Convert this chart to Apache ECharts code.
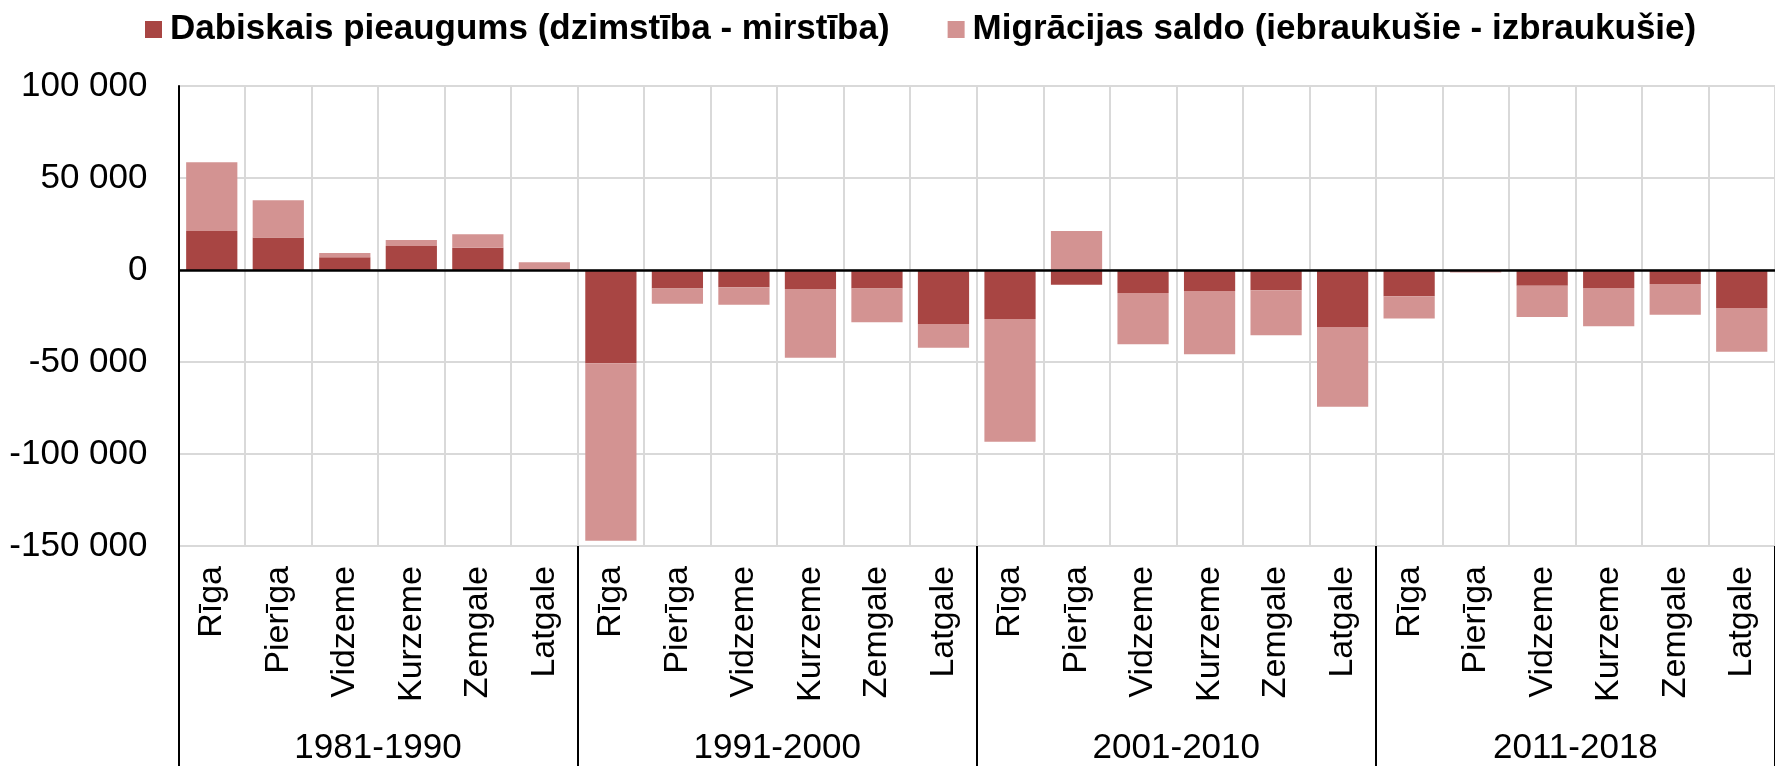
<!DOCTYPE html>
<html>
<head>
<meta charset="utf-8">
<script src="https://cdn.jsdelivr.net/npm/echarts@6/dist/echarts.min.js"></script>
<style>
  html, body { margin: 0; padding: 0; background: #fff; }
  #chart { width: 1775px; height: 766px; }
</style>
</head>
<body>
<div id="chart"></div>
<script>
  // periodi un reģioni
  var periods = ['1981-1990', '1991-2000', '2001-2010', '2011-2018'];
  var regions = ['Rīga', 'Pierīga', 'Vidzeme', 'Kurzeme', 'Zemgale', 'Latgale'];

  // dabiskais pieaugums pa periodiem (Rīga..Latgale)
  var natural1981 = [21200, 17600, 6900, 13000, 12100, 200];
  var natural1991 = [-50700, -10000, -9400, -10300, -10000, -29300];
  var natural2001 = [-26600, -8000, -12500, -11400, -11000, -31000];
  var natural2011 = [-14300, 0, -8500, -9800, -7600, -20700];

  // migrācijas saldo
  var migration1981 = [37300, 20300, 2300, 3300, 7300, 4000];
  var migration1991 = [-96400, -8300, -9500, -37400, -18400, -12900];
  var migration2001 = [-66700, 21200, -27900, -34400, -24500, -43300];
  var migration2011 = [-12100, -1300, -17000, -20800, -16700, -23700];

  var yTicks = { min: -150000, max: 100000, interval: 50000 };

  var legendNames = ['Dabiskais pieaugums (dzimstība - mirstība)', 'Migrācijas saldo (iebraukušie - izbraukušie)'];

  var categories = [];
  periods.forEach(function () {
    regions.forEach(function (r) { categories.push(r); });
  });
  var naturalData = natural1981.concat(natural1991, natural2001, natural2011);
  var migrationData = migration1981.concat(migration1991, migration2001, migration2011);

  var font = "'Liberation Sans', Arial, sans-serif";

  var chart = echarts.init(document.getElementById('chart'));
  chart.setOption({
    animation: false,
    textStyle: { fontFamily: font },
    legend: {
      data: legendNames,
      left: 140,
      top: 7,
      icon: 'rect',
      itemWidth: 17,
      itemHeight: 17,
      itemGap: 58,
      textStyle: { fontSize: 35, fontWeight: 'bold', color: '#000', fontFamily: font, padding: [0, 0, 0, 3] }
    },
    grid: { left: 178.5, top: 86, width: 1608, height: 460, containLabel: false },
    xAxis: [
      {
        type: 'category',
        data: categories,
        axisLine: { show: false, onZero: false },
        axisTick: { show: false },
        splitLine: { show: true, interval: 0, lineStyle: { color: '#d9d9d9', width: 2 } },
        axisLabel: { interval: 0, rotate: 90, margin: 20, fontSize: 34, color: '#000', fontFamily: font }
      },
      {
        type: 'category',
        data: periods,
        position: 'bottom',
        axisLine: { show: false, onZero: false },
        axisTick: { show: true, interval: 0, length: 222, lineStyle: { color: '#000', width: 2 } },
        splitLine: { show: false },
        axisLabel: { interval: 0, margin: 185, fontSize: 35, color: '#000', fontFamily: font }
      }
    ],
    yAxis: {
      type: 'value',
      min: yTicks.min,
      max: yTicks.max,
      interval: yTicks.interval,
      axisLine: { show: true, lineStyle: { color: '#000', width: 2 } },
      axisTick: { show: false },
      splitLine: { show: true, lineStyle: { color: '#d9d9d9', width: 2 } },
      axisLabel: {
        margin: 31,
        fontSize: 35,
        color: '#000',
        fontFamily: font,
        formatter: function (v) {
          return String(v).replace(/\B(?=(\d{3})+(?!\d))/g, ' ');
        }
      }
    },
    series: [
      {
        name: legendNames[0],
        type: 'bar',
        stack: 'total',
        barCategoryGap: '23%',
        itemStyle: { color: '#a84543' },
        data: naturalData,
        markLine: {
          silent: true,
          symbol: 'none',
          label: { show: false },
          lineStyle: { color: '#000', width: 2.5, type: 'solid' },
          data: [{ yAxis: 0 }]
        }
      },
      {
        name: legendNames[1],
        type: 'bar',
        stack: 'total',
        barCategoryGap: '23%',
        itemStyle: { color: '#d39392' },
        data: migrationData
      }
    ]
  });
</script>
</body>
</html>
